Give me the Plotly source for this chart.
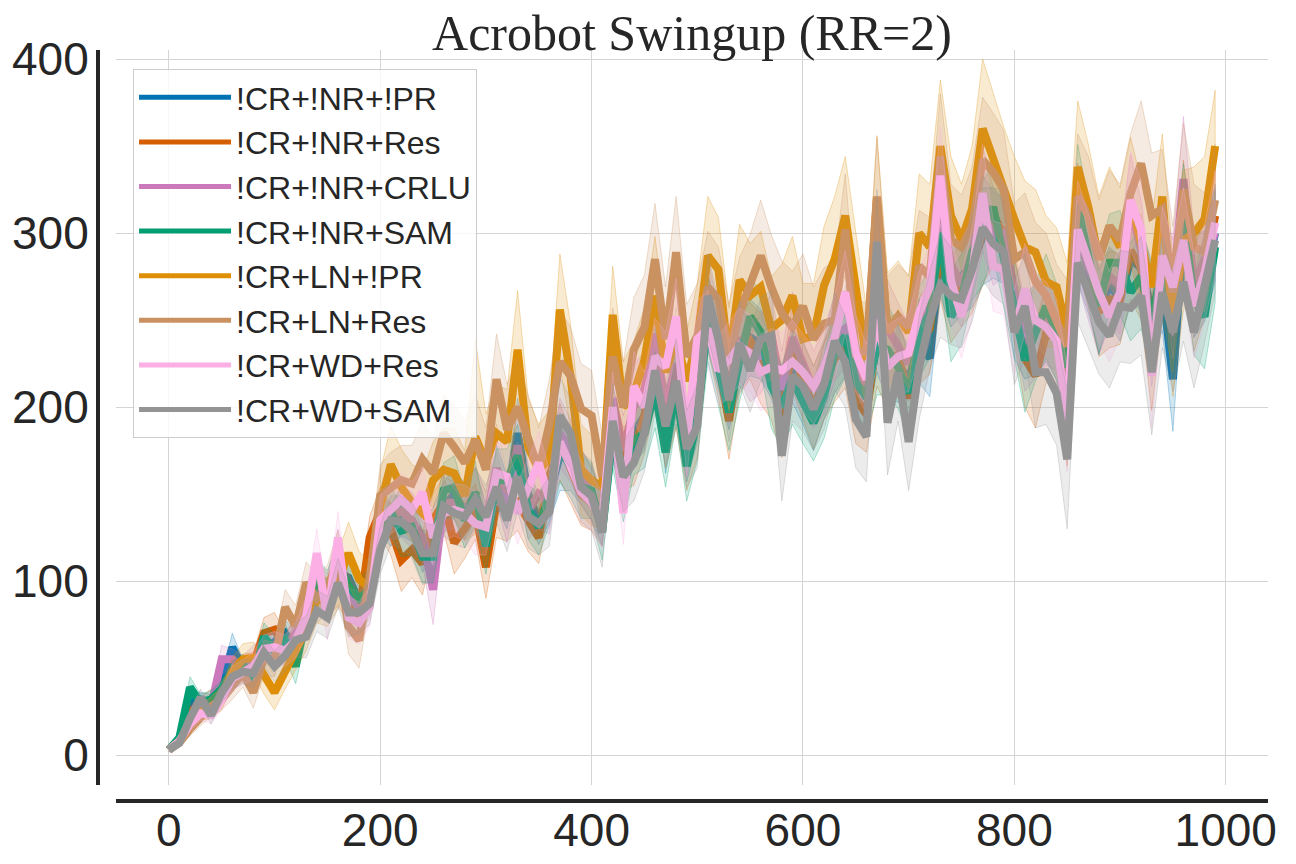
import plotly.graph_objects as go

# data
steps = list(range(0, 1000, 10))

names = ['!CR+!NR+!PR', '!CR+!NR+Res', '!CR+!NR+CRLU', '!CR+!NR+SAM',
         '!CR+LN+!PR', '!CR+LN+Res', '!CR+WD+Res', '!CR+WD+SAM']
colours = ['#0173B2', '#D55E00', '#CC78BC', '#029E73',
           '#DE8F05', '#CA9161', '#FBAFE4', '#949494']

nr_pr = [3, 9, 30, 32, 30, 40, 62, 50, 48, 62,
         65, 70, 62, 78, 95, 92, 105, 102, 88, 92,
         138, 132, 140, 135, 120, 128, 142, 150, 140, 150,
         130, 160, 145, 185, 150, 135, 150, 172, 170, 160,
         150, 135, 188, 160, 185, 195, 240, 180, 215, 175,
         200, 255, 230, 205, 230, 240, 236, 225, 205, 225,
         210, 195, 215, 232, 238, 220, 205, 245, 228, 225,
         215, 238, 228, 290, 270, 275, 282, 298, 300, 295,
         250, 240, 245, 250, 238, 220, 300, 280, 255, 270,
         262, 285, 280, 255, 270, 216, 300, 270, 275, 300]
nr_res = [3, 8, 25, 28, 32, 38, 45, 50, 52, 70,
          72, 62, 70, 78, 92, 90, 98, 90, 80, 125,
          140, 130, 112, 118, 110, 135, 145, 122, 130, 140,
          108, 145, 140, 145, 135, 125, 160, 180, 165, 150,
          145, 135, 192, 170, 175, 195, 225, 185, 210, 172,
          195, 255, 225, 192, 232, 238, 228, 215, 195, 235,
          215, 200, 215, 228, 235, 205, 196, 240, 225, 230,
          205, 238, 245, 290, 262, 270, 280, 300, 310, 300,
          262, 228, 218, 242, 240, 200, 310, 285, 255, 262,
          262, 290, 280, 230, 280, 250, 310, 262, 280, 310]
nr_crlu = [3, 8, 22, 28, 28, 55, 55, 50, 55, 60,
           62, 60, 70, 80, 98, 92, 112, 92, 85, 88,
           135, 138, 140, 135, 125, 95, 145, 145, 140, 148,
           135, 165, 140, 178, 140, 150, 145, 185, 175, 160,
           150, 135, 205, 175, 200, 210, 242, 200, 225, 180,
           210, 260, 235, 210, 240, 225, 230, 242, 210, 240,
           225, 210, 220, 240, 245, 225, 210, 252, 245, 236,
           225, 248, 260, 318, 282, 270, 288, 320, 298, 300,
           265, 235, 245, 250, 245, 205, 300, 280, 262, 275,
           270, 315, 290, 238, 285, 268, 331, 270, 285, 300]
nr_sam = [3, 10, 39, 30, 32, 38, 48, 52, 43, 68,
          60, 66, 51, 80, 101, 95, 110, 97, 90, 95,
          130, 140, 129, 131, 114, 114, 152, 154, 135, 151,
          120, 158, 158, 172, 141, 131, 149, 177, 166, 154,
          152, 128, 185, 152, 181, 185, 210, 174, 212, 166,
          193, 250, 223, 197, 227, 252, 243, 212, 200, 216,
          203, 191, 206, 231, 241, 214, 206, 235, 233, 223,
          208, 243, 254, 300, 252, 262, 289, 300, 315, 285,
          256, 227, 243, 258, 243, 223, 315, 289, 258, 283,
          283, 266, 275, 250, 281, 250, 308, 262, 252, 292]
ln_pr = [3, 8, 17, 25, 27, 33, 48, 55, 56, 45,
         36, 48, 60, 72, 90, 88, 100, 116, 101, 96,
         143, 167, 154, 145, 139, 158, 164, 162, 149, 183,
         168, 185, 180, 233, 177, 164, 170, 256, 218, 164,
         158, 154, 253, 200, 208, 227, 264, 220, 239, 215,
         239, 287, 279, 227, 273, 264, 269, 245, 250, 264,
         239, 241, 270, 285, 310, 267, 227, 320, 243, 252,
         243, 300, 292, 350, 310, 296, 314, 360, 342, 325,
         308, 292, 289, 272, 269, 243, 338, 315, 285, 304,
         292, 319, 292, 269, 321, 246, 296, 300, 308, 350]
ln_res = [3, 7, 15, 22, 28, 32, 40, 47, 36, 56,
          55, 85, 74, 99, 90, 95, 114, 74, 66, 101,
          149, 154, 158, 156, 170, 162, 185, 177, 168, 181,
          164, 216, 187, 200, 181, 164, 190, 226, 218, 199,
          195, 160, 229, 200, 233, 246, 285, 239, 289, 229,
          241, 269, 262, 229, 254, 269, 287, 269, 254, 246,
          258, 239, 248, 250, 302, 231, 232, 321, 243, 252,
          246, 281, 275, 344, 296, 292, 304, 342, 335, 325,
          285, 289, 272, 264, 250, 235, 321, 310, 285, 304,
          296, 323, 340, 310, 314, 266, 325, 292, 289, 319]
wd_res = [3, 8, 18, 24, 23, 32, 44, 48, 51, 61,
          62, 60, 66, 80, 116, 78, 125, 79, 76, 85,
          135, 141, 147, 141, 151, 125, 139, 141, 139, 133,
          131, 162, 160, 139, 154, 168, 147, 180, 166, 151,
          145, 135, 200, 139, 212, 200, 229, 223, 252, 180,
          239, 245, 221, 227, 235, 231, 220, 223, 221, 226,
          220, 212, 223, 240, 266, 231, 216, 250, 223, 229,
          231, 254, 269, 333, 273, 252, 277, 323, 281, 279,
          243, 268, 250, 246, 238, 193, 302, 283, 266, 252,
          266, 319, 302, 218, 287, 269, 296, 258, 277, 306]
wd_sam = [3, 7, 21, 33, 23, 36, 45, 48, 47, 59,
          51, 57, 66, 68, 83, 79, 99, 82, 82, 87,
          118, 135, 134, 129, 116, 116, 143, 139, 137, 147,
          137, 154, 135, 160, 137, 133, 140, 195, 185, 154,
          149, 128, 192, 160, 168, 185, 221, 189, 215, 176,
          189, 264, 239, 204, 237, 221, 239, 241, 172, 218,
          212, 199, 213, 238, 226, 193, 183, 295, 191, 220,
          180, 223, 250, 270, 264, 262, 279, 303, 294, 289,
          243, 258, 220, 220, 208, 170, 283, 266, 249, 241,
          258, 257, 264, 220, 266, 243, 272, 243, 269, 296]

# half-width of the shaded band around each mean
nr_pr_sd = [1, 2, 5, 4, 5, 5, 8, 5, 6, 6, 7, 8, 8, 9, 10, 9, 12, 10, 10, 9,
            12, 12, 14, 12, 15, 14, 15, 14, 16, 15, 14, 18, 15, 20, 16, 14, 16, 20, 18, 16,
            15, 14, 18, 16, 18, 20, 22, 18, 20, 18, 20, 22, 20, 18, 20, 22, 20, 20, 18, 22,
            20, 20, 22, 24, 20, 22, 18, 25, 24, 22, 20, 24, 22, 26, 24, 22, 25, 28, 26, 24,
            22, 24, 26, 24, 22, 30, 28, 26, 24, 22, 24, 26, 24, 28, 26, 30, 28, 30, 26, 28]
nr_res_sd = [1, 2, 4, 5, 6, 5, 6, 8, 7, 9, 10, 8, 9, 10, 12, 11, 12, 14, 12, 12,
             14, 15, 18, 16, 18, 15, 16, 18, 17, 16, 18, 20, 17, 16, 18, 15, 18, 22, 20, 18,
             16, 15, 20, 18, 20, 22, 24, 20, 22, 20, 24, 22, 20, 22, 24, 22, 26, 22, 24, 25,
             22, 24, 22, 25, 24, 26, 22, 28, 26, 24, 22, 25, 26, 28, 25, 24, 26, 30, 28, 26,
             25, 28, 30, 28, 26, 34, 30, 28, 26, 28, 26, 28, 30, 32, 28, 30, 32, 30, 28, 26]
nr_crlu_sd = [1, 2, 4, 4, 6, 8, 6, 7, 8, 8, 9, 8, 10, 12, 14, 12, 18, 12, 12, 10,
              14, 14, 15, 16, 15, 20, 16, 15, 17, 18, 16, 20, 18, 22, 16, 20, 18, 20, 18, 16,
              16, 15, 22, 20, 24, 22, 22, 20, 22, 20, 22, 24, 22, 20, 24, 22, 22, 24, 22, 26,
              24, 22, 24, 25, 22, 24, 20, 26, 28, 24, 22, 26, 24, 30, 26, 24, 26, 30, 28, 25,
              24, 26, 28, 26, 24, 30, 28, 30, 32, 28, 28, 30, 28, 26, 30, 28, 36, 30, 28, 26]
nr_sam_sd = [1, 2, 6, 5, 5, 5, 6, 6, 7, 8, 9, 10, 10, 12, 12, 11, 12, 14, 12, 12,
             14, 14, 15, 16, 15, 15, 16, 18, 16, 18, 16, 18, 18, 18, 17, 16, 17, 20, 18, 18,
             16, 16, 20, 18, 20, 20, 22, 20, 22, 20, 24, 24, 22, 22, 24, 24, 22, 24, 24, 26,
             24, 22, 24, 26, 24, 24, 22, 28, 26, 24, 24, 26, 26, 28, 26, 26, 28, 30, 28, 28,
             28, 30, 28, 30, 28, 32, 36, 30, 28, 28, 30, 28, 30, 30, 28, 30, 32, 32, 30, 32]
ln_pr_sd = [1, 2, 4, 5, 6, 7, 8, 9, 9, 10, 10, 10, 11, 12, 14, 14, 16, 18, 16, 15,
            20, 22, 22, 22, 24, 22, 24, 26, 26, 56, 28, 28, 30, 34, 28, 26, 28, 32, 30, 26,
            26, 24, 28, 26, 30, 30, 34, 30, 32, 28, 32, 34, 30, 30, 32, 30, 32, 30, 32, 34,
            32, 30, 34, 36, 34, 32, 30, 36, 34, 32, 32, 34, 36, 38, 34, 32, 36, 40, 38, 36,
            36, 38, 36, 38, 34, 40, 38, 36, 36, 34, 34, 36, 38, 38, 36, 40, 40, 38, 36, 32]
ln_res_sd = [1, 2, 4, 5, 6, 6, 8, 8, 9, 10, 10, 10, 12, 12, 14, 14, 15, 16, 16, 15,
             18, 20, 20, 22, 22, 20, 22, 24, 24, 26, 24, 26, 26, 28, 26, 24, 26, 30, 28, 26,
             26, 24, 28, 26, 30, 30, 32, 30, 32, 30, 30, 32, 30, 30, 32, 30, 32, 30, 30, 32,
             30, 30, 32, 34, 32, 30, 28, 34, 32, 30, 30, 32, 34, 36, 32, 30, 34, 36, 34, 34,
             32, 34, 34, 36, 32, 38, 36, 34, 34, 32, 32, 34, 36, 36, 34, 38, 38, 36, 34, 32]
wd_res_sd = [1, 2, 4, 4, 5, 6, 7, 7, 8, 8, 9, 9, 10, 11, 14, 12, 15, 12, 12, 11,
             14, 14, 15, 16, 15, 16, 16, 15, 16, 18, 16, 18, 18, 18, 16, 18, 17, 20, 18, 18,
             16, 16, 20, 18, 20, 20, 22, 20, 22, 20, 22, 22, 20, 22, 22, 22, 22, 22, 22, 24,
             22, 22, 22, 24, 24, 22, 20, 26, 24, 22, 22, 24, 24, 28, 24, 24, 26, 28, 26, 26,
             24, 26, 26, 26, 24, 30, 28, 28, 28, 26, 26, 28, 28, 30, 28, 28, 30, 30, 28, 30]
wd_sam_sd = [1, 2, 4, 5, 5, 6, 7, 7, 8, 8, 9, 9, 10, 12, 12, 12, 14, 14, 12, 12,
             14, 14, 15, 16, 18, 16, 17, 18, 18, 18, 18, 20, 18, 20, 18, 18, 20, 22, 20, 20,
             20, 20, 22, 20, 22, 22, 24, 22, 24, 22, 24, 24, 22, 24, 24, 24, 24, 26, 26, 26,
             26, 24, 26, 28, 26, 28, 26, 30, 30, 28, 28, 30, 28, 30, 28, 28, 30, 30, 30, 30,
             30, 30, 32, 30, 30, 40, 34, 32, 30, 30, 32, 32, 34, 36, 32, 34, 34, 32, 32, 30]

means = [nr_pr, nr_res, nr_crlu, nr_sam, ln_pr, ln_res, wd_res, wd_sam]
spreads = [nr_pr_sd, nr_res_sd, nr_crlu_sd, nr_sam_sd, ln_pr_sd, ln_res_sd, wd_res_sd, wd_sam_sd]

xticks = [0, 200, 400, 600, 800, 1000]
yticks = [0, 100, 200, 300, 400]


def rgba(hexcol, alpha):
    h = hexcol.lstrip('#')
    return 'rgba({},{},{},{})'.format(int(h[0:2], 16), int(h[2:4], 16), int(h[4:6], 16), alpha)


fig = go.Figure()

for name, col, m, s in zip(names, colours, means, spreads):
    upper = [a + b for a, b in zip(m, s)]
    lower = [a - b for a, b in zip(m, s)]
    # shaded band
    fig.add_trace(go.Scatter(
        x=steps + steps[::-1],
        y=upper + lower[::-1],
        fill='toself',
        fillcolor=rgba(col, 0.18),
        line=dict(color=rgba(col, 0.3), width=1),
        hoverinfo='skip',
        showlegend=False))
    # mean line
    fig.add_trace(go.Scatter(
        x=steps, y=m, name=name, mode='lines',
        showlegend=False,
        line=dict(color=col, width=8)))

# legend entries with thinner sample lines
for name, col in zip(names, colours):
    fig.add_trace(go.Scatter(x=[None], y=[None], name=name, mode='lines',
                             line=dict(color=col, width=5)))

ink = '#262626'
# the page body adds an 8px offset, so the figure is 8px smaller than the window
fig.update_layout(
    width=1288, height=856,
    margin=dict(l=88, r=28, t=42, b=63, autoexpand=False),
    paper_bgcolor='white', plot_bgcolor='white',
    title=dict(text='Acrobot Swingup (RR=2)', xref='paper', x=0.5085, xanchor='center',
               yref='container', y=0.9918, yanchor='top', automargin=False,
               font=dict(family='Liberation Serif', size=50, color=ink)),
    font=dict(family='Liberation Sans', color=ink),
    xaxis=dict(domain=[0.01706, 1], range=[-50, 1040], anchor='free', position=0,
               tickvals=xticks, showline=True, linewidth=4, linecolor=ink,
               showgrid=True, gridcolor='#d4d4d4', gridwidth=1, zeroline=False,
               ticks='', ticklabelstandoff=-12, automargin=False,
               tickfont=dict(family='Liberation Sans', size=46, color=ink)),
    yaxis=dict(domain=[0.0213, 1], range=[-17.2, 405.2], anchor='free', position=0.0017,
               tickvals=yticks, showline=True, linewidth=4, linecolor=ink,
               showgrid=True, gridcolor='#d4d4d4', gridwidth=1, zeroline=False,
               ticks='', ticklabelstandoff=-2, automargin=False,
               tickfont=dict(family='Liberation Sans', size=46, color=ink)),
    legend=dict(x=0.0316, y=0.9747, xanchor='left', yanchor='top',
                bgcolor='rgba(255,255,255,0.8)', bordercolor='#cccccc', borderwidth=1,
                itemwidth=92,
                font=dict(family='Liberation Sans', size=32, color=ink)),
)

fig.write_html('out.html')
